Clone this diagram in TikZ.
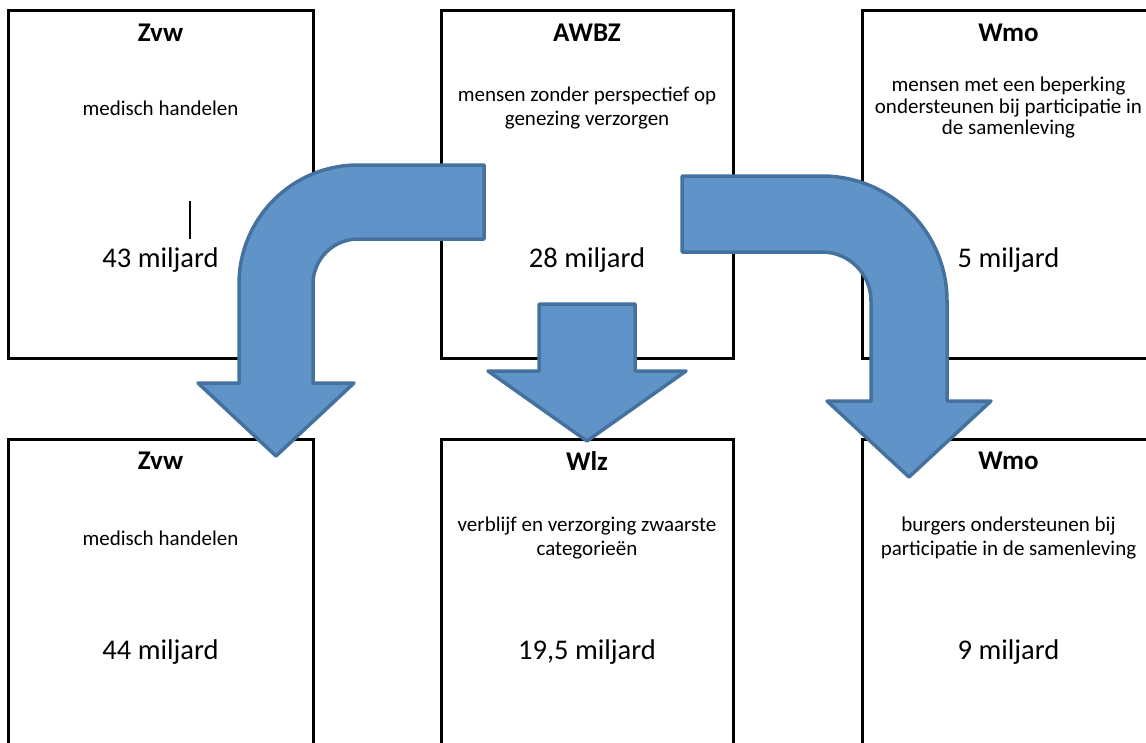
\documentclass[tikz,border=0pt]{standalone}
\usepackage{fontspec}
\setmainfont{Carlito}
\usetikzlibrary{positioning}
\definecolor{pijlblauw}{RGB}{96,148,200}
\definecolor{pijlrand}{RGB}{69,113,158}

\begin{document}
\begin{tikzpicture}[x=1pt,y=1pt,
  box/.style={draw,line width=3pt,minimum width=#1,minimum height=348pt,inner sep=0pt},
  titel/.style={font=\fontsize{27}{32}\selectfont\bfseries,inner sep=0pt},
  omschr/.style={align=center,font=\fontsize{21}{#1}\selectfont,inner sep=0pt},
  bedrag/.style={font=\fontsize{28.5}{34}\selectfont,inner sep=0pt},
  blokpijl/.style={fill=pijlblauw,draw=pijlrand,line width=3.5pt,line join=round}]
\useasboundingbox (0,0) rectangle (1146,-742);
\clip (0,0) rectangle (1146,-742);
% oude situatie
\foreach \n/\x/\w/\t/\d/\r/\a in {zvwOud/160.5/305/Zvw/{medisch handelen}/24.5/43,
  awbz/587/292/AWBZ/{mensen zonder perspectief op\\genezing verzorgen}/24.5/28,
  wmoOud/1008.5/293/Wmo/{mensen met een beperking\\ondersteunen bij participatie in\\de samenleving}/21.5/5}{
  \node[box=\w pt] (\n) at (\x,-184) {};
  \node[titel] (\n-titel) at (\x,-33) {\t};
  \node[omschr=\r] (\n-tekst) at (\x,-108) {\d};
  \node[bedrag] (\n-bedrag) at (\x,-260) {\a{} miljard};
}
% nieuwe situatie
\foreach \n/\x/\w/\t/\d/\a in {zvwNieuw/160.5/305/Zvw/{medisch handelen}/44,
  wlz/587/292/Wlz/{verblijf en verzorging zwaarste\\categorieën}/{19,5},
  wmoNieuw/1008.5/293/Wmo/{burgers ondersteunen bij\\participatie in de samenleving}/9}{
  \node[box=\w pt] (\n) at (\x,-613) {};
  \node[titel] (\n-titel) at (\x,-461) {\t};
  \node[omschr=24.5] (\n-tekst) at (\x,-538) {\d};
  \node[bedrag] (\n-bedrag) at (\x,-652) {\a{} miljard};
}
\draw[line width=2.5pt] (190,-201) -- (190,-239);
% pijlen
\draw[blokpijl] (484,-165) -- (358,-165) arc[start angle=90,end angle=180,radius=119pt]
  -- (239,-383) -- (198,-383) -- (276,-456) -- (354,-383) -- (313,-383) -- (313,-284)
  arc[start angle=180,end angle=90,radius=45pt] -- (484,-239) -- cycle;
\draw[blokpijl] (539,-304) -- (635,-304) -- (635,-371) -- (686,-371) -- (587,-441)
  -- (488,-371) -- (539,-371) -- cycle;
\draw[blokpijl] (682,-176) -- (822,-176) arc[start angle=90,end angle=0,radius=125pt]
  -- (947,-401) -- (991,-401) -- (909,-477) -- (827,-401) -- (871,-401) -- (871,-301)
  arc[start angle=0,end angle=90,radius=49pt] -- (682,-252) -- cycle;
\end{tikzpicture}
\end{document}
